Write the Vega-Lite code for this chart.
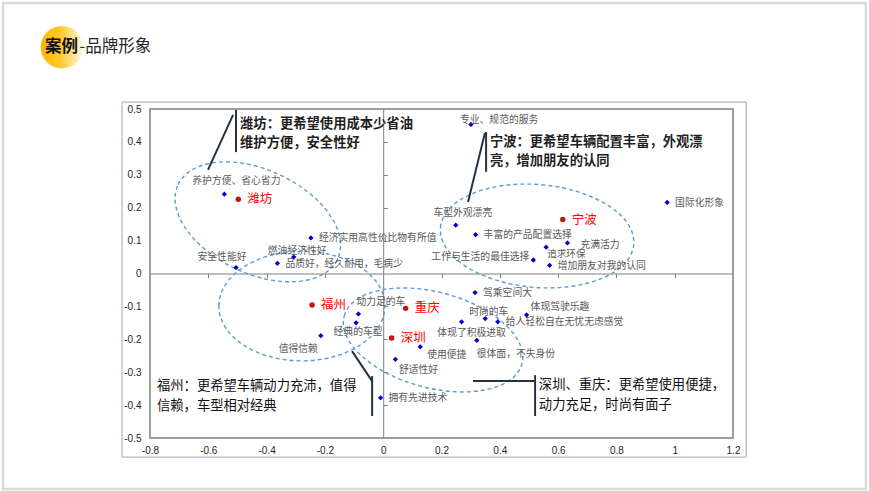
{
  "$schema": "https://vega.github.io/schema/vega-lite/v6.json",
  "width": 583,
  "height": 329,
  "autosize": {"type": "none"},
  "padding": {"left": 150, "top": 109, "right": 136, "bottom": 53},
  "background": "white",
  "config": {"view": {"stroke": "#7f7f7f", "strokeWidth": 1.5}},
  "datasets": {
    "attrs": [
      {"name": "养护方便、省心省力", "x": -0.545, "y": 0.241},
      {"name": "经济实用高性价比物有所值", "x": -0.248, "y": 0.108},
      {"name": "燃油经济性好", "x": -0.307, "y": 0.05},
      {"name": "品质好，经久耐用，毛病少", "x": -0.363, "y": 0.031},
      {"name": "安全性能好", "x": -0.505, "y": 0.018},
      {"name": "专业、规范的服务", "x": 0.301, "y": 0.453},
      {"name": "国际化形象", "x": 0.974, "y": 0.216},
      {"name": "车型外观漂亮", "x": 0.249, "y": 0.147},
      {"name": "丰富的产品配置选择", "x": 0.317, "y": 0.118},
      {"name": "充满活力", "x": 0.632, "y": 0.093},
      {"name": "追求环保", "x": 0.559, "y": 0.08},
      {"name": "工作与生活的最佳选择", "x": 0.515, "y": 0.041},
      {"name": "增加朋友对我的认同", "x": 0.571, "y": 0.025},
      {"name": "动力足的车", "x": -0.085, "y": -0.123},
      {"name": "经典的车型", "x": -0.093, "y": -0.15},
      {"name": "值得信赖", "x": -0.214, "y": -0.189},
      {"name": "驾乘空间大", "x": 0.315, "y": -0.058},
      {"name": "体现驾驶乐趣", "x": 0.492, "y": -0.126},
      {"name": "时尚的车", "x": 0.35, "y": -0.137},
      {"name": "给人轻松自在无忧无虑感觉", "x": 0.393, "y": -0.147},
      {"name": "体现了积极进取", "x": 0.269, "y": -0.147},
      {"name": "很体面，不失身份", "x": 0.321, "y": -0.203},
      {"name": "使用便捷", "x": 0.127, "y": -0.223},
      {"name": "舒适性好", "x": 0.042, "y": -0.261},
      {"name": "拥有先进技术", "x": -0.009, "y": -0.378}
    ],
    "cities": [
      {"name": "潍坊", "x": -0.497, "y": 0.226},
      {"name": "宁波", "x": 0.616, "y": 0.164},
      {"name": "福州", "x": -0.244, "y": -0.096},
      {"name": "重庆", "x": 0.077, "y": -0.106},
      {"name": "深圳", "x": 0.029, "y": -0.196}
    ],
    "clusters": [
      {"group": "潍坊", "x": -0.43, "y": 0.157},
      {"group": "福州", "x": -0.279, "y": -0.099},
      {"group": "深圳重庆", "x": 0.171, "y": -0.202},
      {"group": "宁波", "x": 0.528, "y": 0.114}
    ],
    "leaders": [
      {"x": -0.505, "y": 0.497, "x2": -0.505, "y2": 0.369},
      {"x": -0.515, "y": 0.482, "x2": -0.601, "y2": 0.315},
      {"x": 0.353, "y": 0.43, "x2": 0.353, "y2": 0.309},
      {"x": 0.349, "y": 0.427, "x2": 0.291, "y2": 0.217},
      {"x": -0.107, "y": -0.236, "x2": -0.038, "y2": -0.327},
      {"x": -0.038, "y": -0.312, "x2": -0.038, "y2": -0.433},
      {"x": 0.308, "y": -0.327, "x2": 0.521, "y2": -0.327},
      {"x": 0.521, "y": -0.309, "x2": 0.521, "y2": -0.433}
    ],
    "notes": [
      {"group": "潍坊", "text": "潍坊：更希望使用成本少省油\n维护方便，安全性好", "x": -0.491, "y": 0.476},
      {"group": "宁波", "text": "宁波：更希望车辆配置丰富，外观漂\n亮，增加朋友的认同", "x": 0.366, "y": 0.421},
      {"group": "福州", "text": "福州：更希望车辆动力充沛，值得\n信赖，车型相对经典", "x": -0.776, "y": -0.321},
      {"group": "深圳重庆", "text": "深圳、重庆：更希望使用便捷，\n动力充足，时尚有面子", "x": 0.534, "y": -0.318}
    ]
  },
  "layer": [
    {
      "data": {"values": [{}]},
      "mark": {"type": "rect", "fill": null, "fillOpacity": 0, "stroke": "#d9d9d9", "strokeWidth": 2.5, "clip": false},
      "encoding": {
        "x": {"datum": -1.304, "type": "quantitative", "scale": {"domain": [-0.8, 1.2], "nice": false, "zero": false}, "axis": null},
        "x2": {"datum": 1.656},
        "y": {"datum": 0.822, "type": "quantitative", "scale": {"domain": [-0.5, 0.5], "nice": false, "zero": false}, "axis": null},
        "y2": {"datum": -0.655}
      }
    },
    {
      "data": {"values": [{}]},
      "mark": {"type": "rect", "fill": null, "fillOpacity": 0, "stroke": "#a6a6a6", "strokeWidth": 1, "clip": false},
      "encoding": {
        "x": {"datum": -0.896, "type": "quantitative", "axis": null},
        "x2": {"datum": 1.245},
        "y": {"datum": 0.521, "type": "quantitative", "axis": null},
        "y2": {"datum": -0.558}
      }
    },
    {
      "data": {"name": "clusters"},
      "transform": [{"filter": "datum.group === '潍坊'"}],
      "mark": {"type": "point", "shape": "M -1 0 C -1 -0.326 -0.552 -0.59 0 -0.59 C 0.552 -0.59 1 -0.326 1 0 C 1 0.326 0.552 0.59 0 0.59 C -0.552 0.59 -1 0.326 -1 0 Z", "size": 30976, "angle": 25, "filled": false, "stroke": "#5b9bd5", "strokeWidth": 1.4, "strokeDash": [4, 3], "opacity": 1, "clip": false},
      "encoding": {
        "x": {"field": "x", "type": "quantitative", "axis": null},
        "y": {"field": "y", "type": "quantitative", "axis": null}
      }
    },
    {
      "data": {"name": "clusters"},
      "transform": [{"filter": "datum.group === '福州'"}],
      "mark": {"type": "point", "shape": "M -1 0 C -1 -0.365 -0.552 -0.66 0 -0.66 C 0.552 -0.66 1 -0.365 1 0 C 1 0.365 0.552 0.66 0 0.66 C -0.552 0.66 -1 0.365 -1 0 Z", "size": 27556, "angle": 0, "filled": false, "stroke": "#5b9bd5", "strokeWidth": 1.4, "strokeDash": [4, 3], "opacity": 1, "clip": false},
      "encoding": {
        "x": {"field": "x", "type": "quantitative", "axis": null},
        "y": {"field": "y", "type": "quantitative", "axis": null}
      }
    },
    {
      "data": {"name": "clusters"},
      "transform": [{"filter": "datum.group === '深圳重庆'"}],
      "mark": {"type": "point", "shape": "M -1 0 C -1 -0.287 -0.552 -0.52 0 -0.52 C 0.552 -0.52 1 -0.287 1 0 C 1 0.287 0.552 0.52 0 0.52 C -0.552 0.52 -1 0.287 -1 0 Z", "size": 33856, "angle": 15, "filled": false, "stroke": "#5b9bd5", "strokeWidth": 1.4, "strokeDash": [4, 3], "opacity": 1, "clip": false},
      "encoding": {
        "x": {"field": "x", "type": "quantitative", "axis": null},
        "y": {"field": "y", "type": "quantitative", "axis": null}
      }
    },
    {
      "data": {"name": "clusters"},
      "transform": [{"filter": "datum.group === '宁波'"}],
      "mark": {"type": "point", "shape": "M -1 0 C -1 -0.293 -0.552 -0.53 0 -0.53 C 0.552 -0.53 1 -0.293 1 0 C 1 0.293 0.552 0.53 0 0.53 C -0.552 0.53 -1 0.293 -1 0 Z", "size": 37636, "angle": 5, "filled": false, "stroke": "#5b9bd5", "strokeWidth": 1.4, "strokeDash": [4, 3], "opacity": 1, "clip": false},
      "encoding": {
        "x": {"field": "x", "type": "quantitative", "axis": null},
        "y": {"field": "y", "type": "quantitative", "axis": null}
      }
    },
    {
      "data": {"name": "leaders"},
      "mark": {"type": "rule", "stroke": "#26323f", "strokeWidth": 2, "clip": false},
      "encoding": {
        "x": {"field": "x", "type": "quantitative", "axis": {"orient": "bottom", "offset": -164.5, "title": null, "labels": false, "grid": false, "domain": true, "domainColor": "#7f7f7f", "domainWidth": 1, "ticks": true, "tickSize": 4, "tickColor": "#7f7f7f", "tickWidth": 1, "values": [-0.6, -0.4, -0.2, 0.2, 0.4, 0.6, 0.8, 1.0]}},
        "x2": {"field": "x2"},
        "y": {"field": "y", "type": "quantitative", "axis": {"orient": "right", "offset": -349.8, "title": null, "labels": false, "grid": false, "domain": true, "domainColor": "#7f7f7f", "domainWidth": 1, "ticks": true, "tickSize": 4, "tickColor": "#7f7f7f", "tickWidth": 1, "values": [-0.4, -0.3, -0.2, -0.1, 0.1, 0.2, 0.3, 0.4]}},
        "y2": {"field": "y2"}
      }
    },
    {
      "data": {"name": "attrs"},
      "mark": {"type": "point", "shape": "diamond", "filled": true, "size": 28, "color": "#0000cc", "opacity": 1, "clip": false},
      "encoding": {
        "x": {"field": "x", "type": "quantitative", "axis": {"orient": "bottom", "title": null, "grid": false, "domain": false, "ticks": false, "tickSize": 0, "labelPadding": 7, "labelFont": "Liberation Sans", "labelFontSize": 10, "labelColor": "#262626", "values": [-0.8, -0.6, -0.4, -0.2, 0, 0.2, 0.4, 0.6, 0.8, 1, 1.2], "format": "~g", "labelExpr": "replace(datum.label, '−', '-')", "labelFlush": false}},
        "y": {"field": "y", "type": "quantitative", "axis": {"orient": "left", "title": null, "grid": false, "domain": false, "ticks": false, "tickSize": 0, "labelPadding": 9, "labelFont": "Liberation Sans", "labelFontSize": 10, "labelColor": "#262626", "values": [-0.5, -0.4, -0.3, -0.2, -0.1, 0, 0.1, 0.2, 0.3, 0.4, 0.5], "format": "~g", "labelExpr": "replace(datum.label, '−', '-')", "labelFlush": false}}
      }
    },
    {
      "data": {"name": "cities"},
      "mark": {"type": "point", "shape": "circle", "filled": true, "size": 30, "color": "#cc1111", "opacity": 1, "clip": false},
      "encoding": {
        "x": {"field": "x", "type": "quantitative", "axis": null},
        "y": {"field": "y", "type": "quantitative", "axis": null}
      }
    },
    {
      "data": {"name": "cities"},
      "mark": {"type": "text", "align": "left", "baseline": "middle", "dx": 9, "dy": 0, "font": "Noto Sans CJK SC", "fontSize": 12.5, "fill": "#ff0000", "clip": false},
      "encoding": {
        "x": {"field": "x", "type": "quantitative", "axis": null},
        "y": {"field": "y", "type": "quantitative", "axis": null},
        "text": {"field": "name"}
      }
    },
    {
      "data": {"name": "attrs"},
      "transform": [{"filter": {"field": "name", "oneOf": ["经济实用高性价比物有所值", "品质好，经久耐用，毛病少", "国际化形象", "丰富的产品配置选择", "增加朋友对我的认同", "驾乘空间大", "给人轻松自在无忧无虑感觉", "拥有先进技术"]}}],
      "mark": {"type": "text", "align": "left", "baseline": "middle", "dx": 8, "dy": 0.5, "font": "Noto Sans CJK SC", "fontSize": 9.8, "fill": "#595959", "clip": false},
      "encoding": {"x": {"field": "x", "type": "quantitative", "axis": null}, "y": {"field": "y", "type": "quantitative", "axis": null}, "text": {"field": "name"}}
    },
    {
      "data": {"name": "attrs"},
      "transform": [{"filter": {"field": "name", "oneOf": ["充满活力"]}}],
      "mark": {"type": "text", "align": "left", "baseline": "middle", "dx": 13, "dy": 2, "font": "Noto Sans CJK SC", "fontSize": 9.8, "fill": "#595959", "clip": false},
      "encoding": {"x": {"field": "x", "type": "quantitative", "axis": null}, "y": {"field": "y", "type": "quantitative", "axis": null}, "text": {"field": "name"}}
    },
    {
      "data": {"name": "attrs"},
      "transform": [{"filter": {"field": "name", "oneOf": ["养护方便、省心省力"]}}],
      "mark": {"type": "text", "align": "center", "baseline": "middle", "dx": 12, "dy": -13, "font": "Noto Sans CJK SC", "fontSize": 9.8, "fill": "#595959", "clip": false},
      "encoding": {"x": {"field": "x", "type": "quantitative", "axis": null}, "y": {"field": "y", "type": "quantitative", "axis": null}, "text": {"field": "name"}}
    },
    {
      "data": {"name": "attrs"},
      "transform": [{"filter": {"field": "name", "oneOf": ["车型外观漂亮"]}}],
      "mark": {"type": "text", "align": "center", "baseline": "middle", "dx": 7, "dy": -12, "font": "Noto Sans CJK SC", "fontSize": 9.8, "fill": "#595959", "clip": false},
      "encoding": {"x": {"field": "x", "type": "quantitative", "axis": null}, "y": {"field": "y", "type": "quantitative", "axis": null}, "text": {"field": "name"}}
    },
    {
      "data": {"name": "attrs"},
      "transform": [{"filter": {"field": "name", "oneOf": ["时尚的车", "燃油经济性好"]}}],
      "mark": {"type": "text", "align": "center", "baseline": "middle", "dx": 3.5, "dy": -6.5, "font": "Noto Sans CJK SC", "fontSize": 9.8, "fill": "#595959", "clip": false},
      "encoding": {"x": {"field": "x", "type": "quantitative", "axis": null}, "y": {"field": "y", "type": "quantitative", "axis": null}, "text": {"field": "name"}}
    },
    {
      "data": {"name": "attrs"},
      "transform": [{"filter": {"field": "name", "oneOf": ["安全性能好"]}}],
      "mark": {"type": "text", "align": "center", "baseline": "middle", "dx": -14, "dy": -11, "font": "Noto Sans CJK SC", "fontSize": 9.8, "fill": "#595959", "clip": false},
      "encoding": {"x": {"field": "x", "type": "quantitative", "axis": null}, "y": {"field": "y", "type": "quantitative", "axis": null}, "text": {"field": "name"}}
    },
    {
      "data": {"name": "attrs"},
      "transform": [{"filter": {"field": "name", "oneOf": ["专业、规范的服务"]}}],
      "mark": {"type": "text", "align": "left", "baseline": "middle", "dx": -11, "dy": -4, "font": "Noto Sans CJK SC", "fontSize": 9.8, "fill": "#595959", "clip": false},
      "encoding": {"x": {"field": "x", "type": "quantitative", "axis": null}, "y": {"field": "y", "type": "quantitative", "axis": null}, "text": {"field": "name"}}
    },
    {
      "data": {"name": "attrs"},
      "transform": [{"filter": {"field": "name", "oneOf": ["动力足的车"]}}],
      "mark": {"type": "text", "align": "left", "baseline": "middle", "dx": -2, "dy": -12, "font": "Noto Sans CJK SC", "fontSize": 9.8, "fill": "#595959", "clip": false},
      "encoding": {"x": {"field": "x", "type": "quantitative", "axis": null}, "y": {"field": "y", "type": "quantitative", "axis": null}, "text": {"field": "name"}}
    },
    {
      "data": {"name": "attrs"},
      "transform": [{"filter": {"field": "name", "oneOf": ["体现驾驶乐趣"]}}],
      "mark": {"type": "text", "align": "left", "baseline": "middle", "dx": 4, "dy": -8, "font": "Noto Sans CJK SC", "fontSize": 9.8, "fill": "#595959", "clip": false},
      "encoding": {"x": {"field": "x", "type": "quantitative", "axis": null}, "y": {"field": "y", "type": "quantitative", "axis": null}, "text": {"field": "name"}}
    },
    {
      "data": {"name": "attrs"},
      "transform": [{"filter": {"field": "name", "oneOf": ["追求环保"]}}],
      "mark": {"type": "text", "align": "left", "baseline": "middle", "dx": 1, "dy": 6.5, "font": "Noto Sans CJK SC", "fontSize": 9.6, "fill": "#595959", "clip": false},
      "encoding": {"x": {"field": "x", "type": "quantitative", "axis": null}, "y": {"field": "y", "type": "quantitative", "axis": null}, "text": {"field": "name"}}
    },
    {
      "data": {"name": "attrs"},
      "transform": [{"filter": {"field": "name", "oneOf": ["舒适性好"]}}],
      "mark": {"type": "text", "align": "left", "baseline": "middle", "dx": 3.5, "dy": 10.5, "font": "Noto Sans CJK SC", "fontSize": 9.8, "fill": "#595959", "clip": false},
      "encoding": {"x": {"field": "x", "type": "quantitative", "axis": null}, "y": {"field": "y", "type": "quantitative", "axis": null}, "text": {"field": "name"}}
    },
    {
      "data": {"name": "attrs"},
      "transform": [{"filter": {"field": "name", "oneOf": ["很体面，不失身份"]}}],
      "mark": {"type": "text", "align": "left", "baseline": "middle", "dx": 0, "dy": 14, "font": "Noto Sans CJK SC", "fontSize": 9.8, "fill": "#595959", "clip": false},
      "encoding": {"x": {"field": "x", "type": "quantitative", "axis": null}, "y": {"field": "y", "type": "quantitative", "axis": null}, "text": {"field": "name"}}
    },
    {
      "data": {"name": "attrs"},
      "transform": [{"filter": {"field": "name", "oneOf": ["使用便捷"]}}],
      "mark": {"type": "text", "align": "left", "baseline": "middle", "dx": 7, "dy": 8, "font": "Noto Sans CJK SC", "fontSize": 9.8, "fill": "#595959", "clip": false},
      "encoding": {"x": {"field": "x", "type": "quantitative", "axis": null}, "y": {"field": "y", "type": "quantitative", "axis": null}, "text": {"field": "name"}}
    },
    {
      "data": {"name": "attrs"},
      "transform": [{"filter": {"field": "name", "oneOf": ["工作与生活的最佳选择"]}}],
      "mark": {"type": "text", "align": "right", "baseline": "middle", "dx": -4, "dy": -3, "font": "Noto Sans CJK SC", "fontSize": 9.8, "fill": "#595959", "clip": false},
      "encoding": {"x": {"field": "x", "type": "quantitative", "axis": null}, "y": {"field": "y", "type": "quantitative", "axis": null}, "text": {"field": "name"}}
    },
    {
      "data": {"name": "attrs"},
      "transform": [{"filter": {"field": "name", "oneOf": ["值得信赖"]}}],
      "mark": {"type": "text", "align": "right", "baseline": "middle", "dx": -3, "dy": 13, "font": "Noto Sans CJK SC", "fontSize": 9.8, "fill": "#595959", "clip": false},
      "encoding": {"x": {"field": "x", "type": "quantitative", "axis": null}, "y": {"field": "y", "type": "quantitative", "axis": null}, "text": {"field": "name"}}
    },
    {
      "data": {"name": "attrs"},
      "transform": [{"filter": {"field": "name", "oneOf": ["经典的车型"]}}],
      "mark": {"type": "text", "align": "center", "baseline": "middle", "dx": 2, "dy": 9, "font": "Noto Sans CJK SC", "fontSize": 9.8, "fill": "#595959", "clip": false},
      "encoding": {"x": {"field": "x", "type": "quantitative", "axis": null}, "y": {"field": "y", "type": "quantitative", "axis": null}, "text": {"field": "name"}}
    },
    {
      "data": {"name": "attrs"},
      "transform": [{"filter": {"field": "name", "oneOf": ["体现了积极进取"]}}],
      "mark": {"type": "text", "align": "center", "baseline": "middle", "dx": 10, "dy": 11, "font": "Noto Sans CJK SC", "fontSize": 9.8, "fill": "#595959", "clip": false},
      "encoding": {"x": {"field": "x", "type": "quantitative", "axis": null}, "y": {"field": "y", "type": "quantitative", "axis": null}, "text": {"field": "name"}}
    },
    {
      "data": {"name": "notes"},
      "transform": [{"filter": {"field": "group", "oneOf": ["潍坊", "宁波"]}}],
      "mark": {"type": "text", "align": "left", "baseline": "top", "lineBreak": "\n", "lineHeight": 19.5, "font": "Noto Sans CJK SC", "fontSize": 13.3, "fontWeight": "bold", "fill": "#1f1f1f", "clip": false},
      "encoding": {"x": {"field": "x", "type": "quantitative", "axis": null}, "y": {"field": "y", "type": "quantitative", "axis": null}, "text": {"field": "text"}}
    },
    {
      "data": {"name": "notes"},
      "transform": [{"filter": {"field": "group", "oneOf": ["福州", "深圳重庆"]}}],
      "mark": {"type": "text", "align": "left", "baseline": "top", "lineBreak": "\n", "lineHeight": 20, "font": "Noto Sans CJK SC", "fontSize": 13.3, "fontWeight": "normal", "fill": "#111111", "clip": false},
      "encoding": {"x": {"field": "x", "type": "quantitative", "axis": null}, "y": {"field": "y", "type": "quantitative", "axis": null}, "text": {"field": "text"}}
    },
    {
      "data": {"values": [{}]},
      "mark": {"type": "point", "shape": "circle", "filled": true, "size": 1810, "opacity": 1, "strokeWidth": 0, "clip": false,
        "fill": {"gradient": "linear", "x1": 0, "y1": 0, "x2": 1, "y2": 0, "stops": [{"offset": 0, "color": "#ffb800"}, {"offset": 0.45, "color": "#ffc72a"}, {"offset": 1, "color": "#fff8e0"}]}},
      "encoding": {
        "x": {"datum": -1.102, "type": "quantitative", "axis": null},
        "y": {"datum": 0.688, "type": "quantitative", "axis": null}
      }
    },
    {
      "data": {"values": [{}]},
      "mark": {"type": "text", "align": "left", "baseline": "middle", "font": "Noto Sans CJK SC", "fontSize": 16.5, "fontWeight": "bold", "fill": "#111111", "clip": false},
      "encoding": {
        "x": {"datum": -1.16, "type": "quantitative", "axis": null},
        "y": {"datum": 0.688, "type": "quantitative", "axis": null},
        "text": {"value": "案例"}
      }
    },
    {
      "data": {"values": [{}]},
      "mark": {"type": "text", "align": "left", "baseline": "middle", "font": "Noto Sans CJK SC", "fontSize": 16.5, "fontWeight": "normal", "fill": "#262626", "clip": false},
      "encoding": {
        "x": {"datum": -1.042, "type": "quantitative", "axis": null},
        "y": {"datum": 0.688, "type": "quantitative", "axis": null},
        "text": {"value": "-品牌形象"}
      }
    }
  ],
  "resolve": {"axis": {"x": "independent", "y": "independent"}}
}
